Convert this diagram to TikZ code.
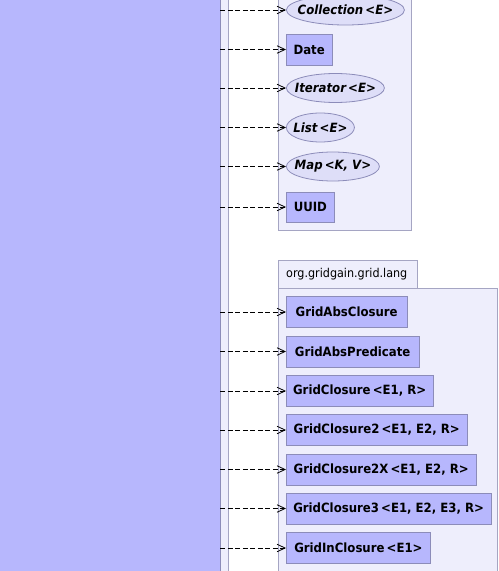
\documentclass[tikz,border=0pt]{standalone}
\usepackage{fontspec}
\setmainfont{DejaVu Sans}
\newfontfamily\umlfont{DejaVu Sans}[FakeStretch=0.92]
\usetikzlibrary{shapes.geometric,arrows.meta}
\definecolor{classfill}{RGB}{183,183,253}
\definecolor{ifacefill}{RGB}{222,222,248}
\definecolor{pkgfill}{RGB}{238,238,252}
\definecolor{classline}{RGB}{140,140,185}
\definecolor{pkgline}{RGB}{165,165,195}
\tikzset{
  every node/.style={font=\umlfont\fontsize{12.8}{14}\selectfont\bfseries},
  classbox/.style={draw=classline, fill=classfill, line width=0.8bp, rectangle, anchor=west, minimum height=31bp, inner sep=0pt},
  ifacebox/.style={draw=classline, fill=ifacefill, line width=0.8bp, ellipse, anchor=west, minimum height=29bp, inner sep=0pt, font=\umlfont\fontsize{12.8}{14}\selectfont\bfseries\itshape},
  pkgbox/.style={draw=pkgline, fill=pkgfill, line width=0.8bp, rectangle, inner sep=0pt},
  dep/.style={draw=black, line width=0.8bp, dash pattern=on 5bp off 2.5bp, -{Straight Barb[length=8bp,width=7.5bp]}},
}
\begin{document}
\begin{tikzpicture}[x=1bp,y=-1bp]
\useasboundingbox (0,0) rectangle (499,571);
\begin{scope}
\clip (0,0) rectangle (499,571);
% left package strip and big class
\node[pkgbox, minimum width=249bp, minimum height=640bp] (leftpkg) at (104,285.5) {};
\node[draw=classline, fill=classfill, line width=0.8bp, rectangle, inner sep=0pt, minimum width=240bp, minimum height=640bp] (src) at (100,285.5) {};
% package 1
\node[pkgbox, minimum width=133.5bp, minimum height=260bp] (pkga) at (344.75,100) {};
% package 2
\node[pkgbox, minimum width=139.5bp, minimum height=28bp] (pkgbtab) at (347.75,274) {};
\node[font=\umlfont\fontsize{12.2}{14}\selectfont, anchor=west, inner sep=0pt] (pkgbname) at (286,274) {org.gridgain.grid.lang};
\node[pkgbox, minimum width=219.5bp, minimum height=320bp] (pkgb) at (387.75,448) {};
\end{scope}
% package 1 members
\node[ifacebox, minimum width=118bp, minimum height=30bp] (coll) at (286,10) {\makebox[0pt]{Collection\,<E>}};
\node[classbox, minimum width=45.5bp] (date) at (286,49.5) {Date};
\node[ifacebox, minimum width=98bp] (iter) at (286,88) {\makebox[0pt]{Iterator\,<E>}};
\node[ifacebox, minimum width=68bp] (list) at (286,127.5) {\makebox[0pt]{List\,<E>}};
\node[ifacebox, minimum width=93bp] (map) at (286,166.5) {\makebox[0pt]{Map\,<K, V>}};
\node[classbox, minimum width=48bp, minimum height=30bp] (uuid) at (286,207) {UUID};
% package 2 members
\node[classbox, minimum width=120.5bp] (gac) at (286,312) {GridAbsClosure};
\node[classbox, minimum width=132.5bp] (gap) at (286,351.5) {GridAbsPredicate};
\node[classbox, minimum width=146.5bp] (gc) at (286,391) {GridClosure\,<E1, R>};
\node[classbox, minimum width=180.5bp] (gc2) at (286,430) {GridClosure2\,<E1, E2, R>};
\node[classbox, minimum width=189.5bp] (gc2x) at (286,469.5) {GridClosure2X\,<E1, E2, R>};
\node[classbox, minimum width=204.5bp] (gc3) at (286,508.5) {GridClosure3\,<E1, E2, E3, R>};
\node[classbox, minimum width=144bp] (gic) at (286,548) {GridInClosure\,<E1>};
% dependencies
\foreach \n in {coll,date,iter,list,map,uuid,gac,gap,gc,gc2,gc2x,gc3,gic}
  \draw[dep] (src.east |- \n.west) -- (\n.west);
\end{tikzpicture}
\end{document}
